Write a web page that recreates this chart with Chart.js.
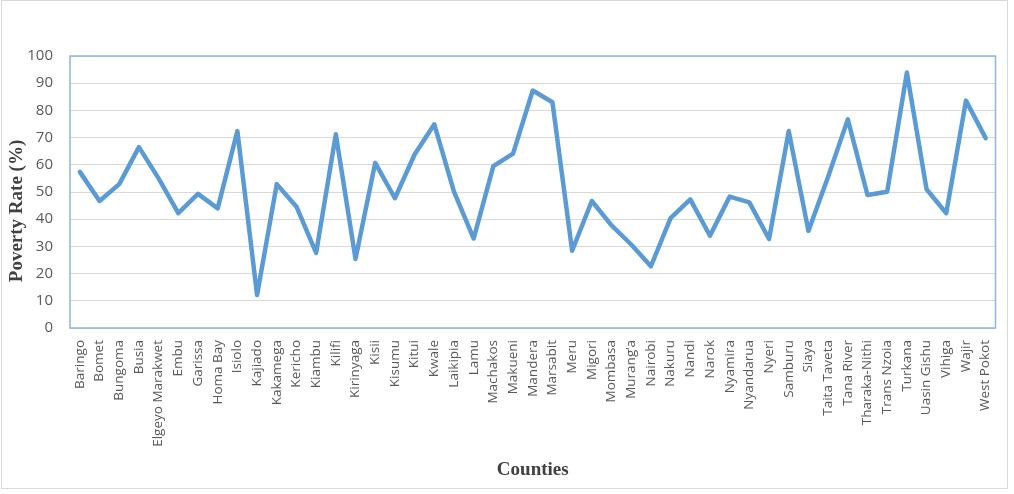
<!DOCTYPE html>
<html>
<head>
<meta charset="utf-8">
<script src="https://cdn.jsdelivr.net/npm/chart.js@4/dist/chart.umd.min.js"></script>
<style>
  html, body { margin: 0; padding: 0; background: #fff; }
</style>
</head>
<body>
<canvas id="povertyChart" width="1014" height="494"></canvas>
<script>
// counties (x axis)
const counties = [
    'Baringo', 'Bomet', 'Bungoma', 'Busia', 'Elgeyo Marakwet', 'Embu', 'Garissa', 'Homa Bay',
    'Isiolo', 'Kajiado', 'Kakamega', 'Kericho', 'Kiambu', 'Kilifi', 'Kirinyaga', 'Kisii',
    'Kisumu', 'Kitui', 'Kwale', 'Laikipia', 'Lamu', 'Machakos', 'Makueni', 'Mandera',
    'Marsabit', 'Meru', 'Migori', 'Mombasa', 'Murang\u2019a', 'Nairobi', 'Nakuru', 'Nandi',
    'Narok', 'Nyamira', 'Nyandarua', 'Nyeri', 'Samburu', 'Siaya', 'Taita Taveta', 'Tana River',
    'Tharaka-Nithi', 'Trans Nzoia', 'Turkana', 'Uasin Gishu', 'Vihiga', 'Wajir', 'West Pokot'
];

// poverty rate (%) per county
const povertyRate = [
    57.4, 46.7, 52.9, 66.5, 55.0, 42.2, 49.3, 44.0,
    72.4, 12.1, 52.9, 44.6, 27.6, 71.2, 25.4, 60.7,
    47.7, 63.8, 74.9, 50.1, 32.9, 59.5, 64.1, 87.3,
    83.0, 28.4, 46.7, 37.7, 30.7, 22.7, 40.4, 47.3,
    33.9, 48.3, 46.2, 32.7, 72.4, 35.7, 55.6, 76.7,
    48.9, 50.1, 93.9, 51.0, 42.2, 83.6, 69.8
];

// y axis range
const yMin = 0;
const yMax = 100;
const yStep = 10;

const lineColor = '#5b9bd5';
const plotBorder = '#8eb4e3';
const textGrey = '#595959';
const titleGrey = '#404040';

// outer frame + white background
const framePlugin = {
    id: 'frame',
    beforeDraw(chart) {
        const ctx = chart.ctx;
        ctx.save();
        ctx.fillStyle = '#fff';
        ctx.fillRect(0, 0, chart.width, chart.height);
        ctx.strokeStyle = '#d9d9d9';
        ctx.lineWidth = 1;
        ctx.strokeRect(1.5, 0.5, 1006, 488);
        ctx.restore();
    },
    beforeDatasetsDraw(chart) {
        const a = chart.chartArea;
        const ctx = chart.ctx;
        ctx.save();
        ctx.strokeStyle = plotBorder;
        ctx.lineWidth = 1.5;
        ctx.strokeRect(a.left, a.top, a.right - a.left, a.bottom - a.top);
        ctx.restore();
    },
    afterDraw(chart) {
        // y axis title, placed like the original (a little below centre)
        const ctx = chart.ctx;
        ctx.save();
        ctx.translate(17, 211);
        ctx.rotate(-Math.PI / 2);
        ctx.font = 'bold 19px "Liberation Serif", "Times New Roman", serif';
        ctx.fillStyle = titleGrey;
        ctx.textAlign = 'center';
        ctx.textBaseline = 'middle';
        ctx.fillText('Poverty Rate (%)', 0, 0);
        ctx.restore();
    }
};

const ctx = document.querySelector('#povertyChart');

new Chart(ctx, {
    type: 'line',
    data: {
        labels: counties,
        datasets: [
            {
                label: 'Poverty Rate (%)',
                data: povertyRate,
                borderColor: lineColor,
                backgroundColor: lineColor,
                borderWidth: 4.5,
                borderJoinStyle: 'round',
                borderCapStyle: 'round',
                pointRadius: 0,
                tension: 0,
                fill: false
            }
        ]
    },
    options: {
        responsive: false,
        animation: false,
        layout: {
            padding: { top: 56, right: 14, left: 0, bottom: 0 }
        },
        plugins: {
            legend: { display: false },
            tooltip: { enabled: false }
        },
        scales: {
            x: {
                offset: true,
                grid: { display: false, drawTicks: false, tickLength: 0 },
                border: { display: false },
                ticks: {
                    autoSkip: false,
                    minRotation: 90,
                    maxRotation: 90,
                    padding: 12,
                    color: textGrey,
                    font: { family: '"Open Sans", sans-serif', size: 13.5 }
                },
                title: {
                    display: true,
                    text: 'Counties',
                    color: titleGrey,
                    font: { family: '"Liberation Serif", "Times New Roman", serif', size: 19, weight: 'bold' },
                    padding: { top: 0, bottom: 13 }
                },
                afterFit(scale) { scale.height = 166; }
            },
            y: {
                min: yMin,
                max: yMax,
                grid: { color: '#d9d9d9', lineWidth: 1, drawTicks: false, tickLength: 0 },
                border: { display: false },
                ticks: {
                    stepSize: yStep,
                    padding: 17,
                    color: textGrey,
                    font: { family: '"Open Sans", sans-serif', size: 15 }
                },
                afterFit(scale) { scale.width = 70; }
            }
        }
    },
    plugins: [framePlugin]
});
</script>
</body>
</html>
